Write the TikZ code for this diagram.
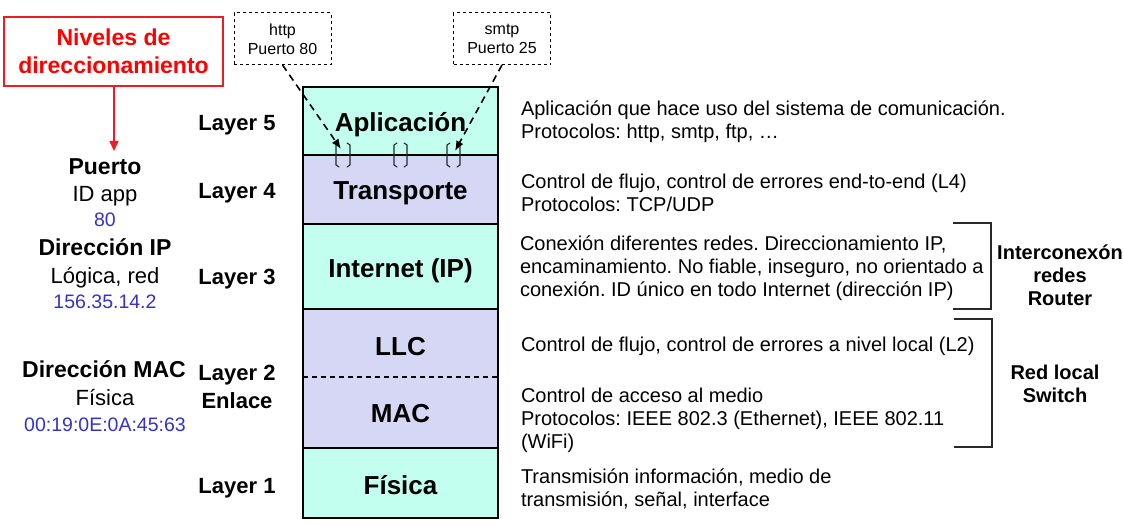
\documentclass[tikz,border=0pt]{standalone}
\usepackage{fontspec}
\setmainfont{Liberation Sans}
\frenchspacing
\usetikzlibrary{arrows.meta}
\definecolor{mint}{RGB}{194,255,238}
\definecolor{lav}{RGB}{214,214,245}
\definecolor{blu}{RGB}{51,51,204}
\definecolor{redc}{RGB}{255,0,0}
\definecolor{redb}{RGB}{237,28,36}
\definecolor{brk}{RGB}{40,40,40}
\begin{document}
\begin{tikzpicture}[x=1pt,y=-1pt,
  every node/.style={inner sep=0pt, outer sep=0pt},
  stackbox/.style={minimum width=195pt, font=\fontsize{26}{30}\selectfont\bfseries},
  layerlbl/.style={font=\fontsize{22}{26}\selectfont\bfseries},
  desc/.style={anchor=west, align=left, font=\fontsize{20}{23}\selectfont},
  addrhead/.style={font=\fontsize{23}{27}\selectfont\bfseries},
  addrsub/.style={font=\fontsize{22}{26}\selectfont},
  addrval/.style={font=\fontsize{19.5}{23}\selectfont, text=blu},
  callout/.style={draw, dashed, line width=1pt, minimum width=97pt, minimum height=52pt, align=center, font=\fontsize{16}{19}\selectfont},
  pointer/.style={dashed, line width=1.6pt, dash pattern=on 7pt off 5pt, -{Latex[length=10pt,width=8pt]}},
  sidebrk/.style={line width=1.6pt, draw=brk},
  sidelbl/.style={align=center, font=\fontsize{20}{23}\selectfont\bfseries},
  smallbrk/.style={line width=1.1pt, draw=brk, line cap=round}
]
\useasboundingbox (0,0) rectangle (1123,526);

% stack
\node[stackbox, fill=mint, minimum height=68pt] (app) at (400.5,121) {};
\node[stackbox, fill=lav, minimum height=69pt] (tra) at (400.5,189.5) {};
\node[stackbox, fill=mint, minimum height=85pt] (inet) at (400.5,266.5) {};
\node[stackbox, fill=lav, minimum height=68pt] (llc) at (400.5,343) {};
\node[stackbox, fill=lav, minimum height=71pt] (mac) at (400.5,412.5) {};
\node[stackbox, fill=mint, minimum height=70pt] (fis) at (400.5,483) {};
\draw[line width=2.6pt] (app.north west) rectangle (app.south east);
\draw[line width=2.6pt] (tra.north west) rectangle (tra.south east);
\draw[line width=2.6pt] (inet.north west) rectangle (inet.south east);
\draw[line width=2.6pt] (llc.north west) rectangle (mac.south east);
\draw[line width=2.6pt] (fis.north west) rectangle (fis.south east);
\draw[line width=1.4pt, dash pattern=on 5pt off 4pt] (llc.south west) -- (llc.south east);

\node[stackbox] (tapp) at (400.5,125) {Aplicación};
\node[stackbox] (ttra) at (400.5,193) {Transporte};
\node[stackbox] (tinet) at (400.5,271) {Internet (IP)};
\node[stackbox] (tllc) at (400.5,347) {LLC};
\node[stackbox] (tmac) at (400.5,414) {MAC};
\node[stackbox] (tfis) at (400.5,485) {Física};

% small brackets
\foreach \xa/\xb in {336/350, 394/407, 447/460}{
  \draw[smallbrk] (\xa+3,143) -- (\xa,145) -- (\xa,165) -- (\xa+3,167);
  \draw[smallbrk] (\xb-3,143) -- (\xb,145) -- (\xb,165) -- (\xb-3,167);
}

% callouts
\node[callout] (http) at (282.5,39) {http\\Puerto 80};
\node[callout] (smtp) at (502,39) {smtp\\Puerto 25};
\coordinate (httptip) at (341,149);
\coordinate (smtptip) at (455,151);
\draw[pointer] (http.south) -- (httptip);
\draw[pointer] (smtp.south) -- (smtptip);

% layer labels
\node[layerlbl] (l5) at (237,125) {Layer 5};
\node[layerlbl] (l4) at (237,193) {Layer 4};
\node[layerlbl] (l3) at (237,279) {Layer 3};
\node[layerlbl, align=center, font=\fontsize{22}{28}\selectfont\bfseries] (l2) at (237,387) {Layer 2\\Enlace};
\node[layerlbl] (l1) at (237,488) {Layer 1};

% addressing levels
\node[draw=redb, line width=1.5pt, minimum width=219pt, minimum height=69pt, align=center,
  text=redc, font=\fontsize{23}{28}\selectfont\bfseries] (niv) at (113.5,51.5) {Niveles de\\direccionamiento};
\coordinate (nivtip) at (114,151);
\draw[redb, line width=1.5pt, -{Triangle[length=10pt,width=9pt]}] (niv.south -| nivtip) -- (nivtip);

\node[addrhead] (ph) at (105,167) {Puerto};
\node[addrsub] (ps) at (105,196) {ID app};
\node[addrval] (pv) at (105,220) {80};
\node[addrhead] (ih) at (105,247) {Dirección IP};
\node[addrsub] (is) at (105,278) {Lógica, red};
\node[addrval] (iv) at (105,302) {156.35.14.2};
\node[addrhead] (mh) at (104,369) {Dirección MAC};
\node[addrsub] (ms) at (105,398) {Física};
\node[addrval] (mv) at (105,425) {00:19:0E:0A:45:63};

% descriptions
\node[desc] (dapp) at (521,122) {Aplicación que hace uso del sistema de comunicación.\\Protocolos: http, smtp, ftp, …};
\node[desc] (dtra) at (521,193) {Control de flujo, control de errores end-to-end (L4)\\Protocolos: TCP/UDP};
\node[desc] (dinet) at (520,268) {Conexión diferentes redes. Direccionamiento IP,\\encaminamiento. No fiable, inseguro, no orientado a\\conexión. ID único en todo Internet (dirección IP)};
\node[desc] (dllc) at (521,346) {Control de flujo, control de errores a nivel local (L2)};
\node[desc] (dmac) at (521,420) {Control de acceso al medio\\Protocolos: IEEE 802.3 (Ethernet), IEEE 802.11\\(WiFi)};
\node[desc] (dfis) at (521,489) {Transmisión información, medio de\\transmisión, señal, interface};

% side brackets
\coordinate (b1a) at (953,223);
\coordinate (b1b) at (953,309);
\coordinate (b2a) at (954,319);
\coordinate (b2b) at (954,447);
\draw[sidebrk] (b1a) -- ++(38,0) |- (b1b);
\draw[sidebrk] (b2a) -- ++(38,0) |- (b2b);
\node[sidelbl] (rt) at (1060,275) {Interconexón\\redes\\Router};
\node[sidelbl] (sw) at (1055,384) {Red local\\Switch};
\end{tikzpicture}
\end{document}
